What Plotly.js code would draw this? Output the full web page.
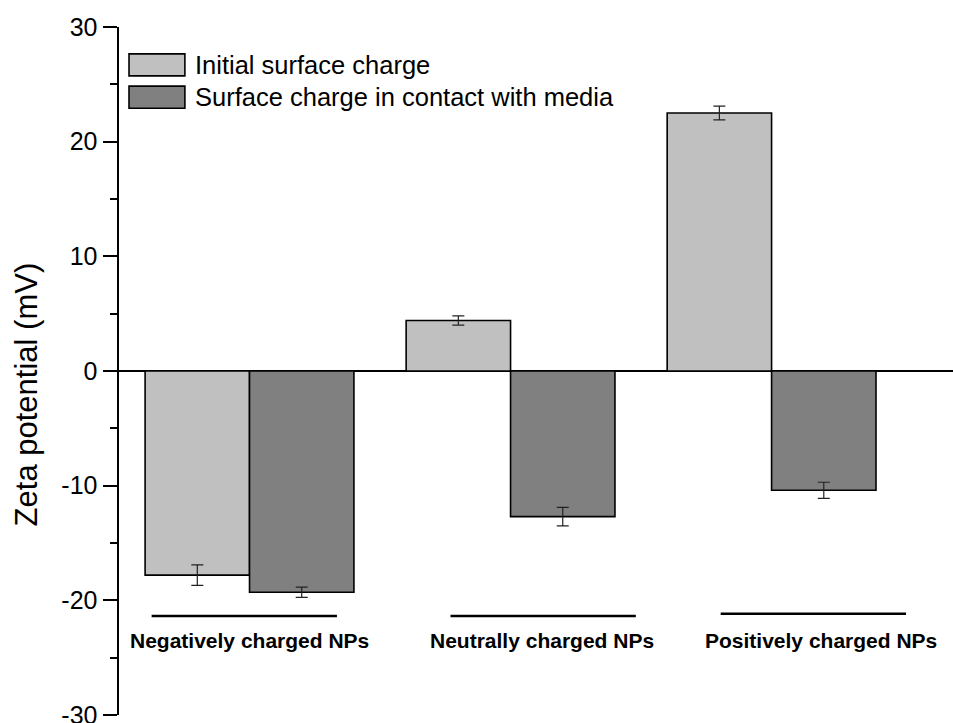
<!DOCTYPE html>
<html>
<head>
<meta charset="utf-8">
<script src="https://cdn.plot.ly/plotly-3.0.1.min.js"></script>
<style>html,body{margin:0;padding:0;background:#fff;}#chart{width:953px;height:723px;}</style>
</head>
<body>
<div id="chart"></div>
<script>
// ---- data ----
var categories = ["Negatively charged NPs", "Neutrally charged NPs", "Positively charged NPs"];
var seriesNames = ["Initial surface charge", "Surface charge in contact with media"];
var initialCharge = [-17.8, 4.4, 22.5];
var initialErr = [0.9, 0.4, 0.6];
var mediaCharge = [-19.3, -12.7, -10.4];
var mediaErr = [0.45, 0.8, 0.7];
var yTickVals = [-30, -20, -10, 0, 10, 20, 30];
var yTitle = "Zeta potential (mV)";

var colors = ["#c0c0c0", "#808080"];
var FONT = "Liberation Sans, Arial, sans-serif";

function barTrace(name, y, err, color) {
  return {
    type: "bar", name: name, x: categories, y: y,
    marker: {color: color, line: {color: "#000", width: 1.6}},
    error_y: {type: "data", array: err, visible: true, color: "#222", thickness: 1.2, width: 6},
    showlegend: false
  };
}
var data = [
  barTrace(seriesNames[0], initialCharge, initialErr, colors[0]),
  barTrace(seriesNames[1], mediaCharge, mediaErr, colors[1])
];

// manual legend (wide swatches)
var shapes = [];
var annotations = [];
var legY = [[0.961, 0.929], [0.914, 0.882]];
seriesNames.forEach(function (n, i) {
  shapes.push({type: "rect", xref: "paper", yref: "paper", x0: 0.012, x1: 0.079,
    y0: legY[i][1], y1: legY[i][0], fillcolor: colors[i], line: {color: "#000", width: 1.6}});
  annotations.push({xref: "paper", yref: "paper", x: 0.089, y: (legY[i][0] + legY[i][1]) / 2,
    xanchor: "left", yanchor: "middle", text: n, showarrow: false,
    font: {family: FONT, size: 25.5, color: "#000"}});
});

// category labels with lines above (placed below the plot content)
var labelOffsets = [0.0, 0.12, 0.19];
var lineOffsets = [-0.02, 0.125, 0.16];
var lineY = [0.144, 0.144, 0.147];
categories.forEach(function (c, i) {
  shapes.push({type: "line", xref: "x", yref: "paper", x0: i + lineOffsets[i] - 0.355, x1: i + lineOffsets[i] + 0.355,
    y0: lineY[i], y1: lineY[i], line: {color: "#000", width: 2.5}});
  annotations.push({xref: "x", yref: "paper", x: i + labelOffsets[i], y: 0.108,
    xanchor: "center", yanchor: "middle", text: "<b>" + c + "</b>", showarrow: false,
    font: {family: FONT, size: 21, color: "#000"}});
});

// y-axis title placed as rotated annotation
annotations.push({xref: "paper", yref: "paper", x: -0.1115, y: 0.466, textangle: -90,
  xanchor: "center", yanchor: "middle", text: yTitle, showarrow: false,
  font: {family: FONT, size: 31, color: "#000"}});

var layout = {
  width: 953, height: 723,
  margin: {l: 119, r: 0, t: 27, b: 8},
  paper_bgcolor: "#fff", plot_bgcolor: "#fff",
  barmode: "group", bargap: 0.2, bargroupgap: 0,
  font: {family: FONT, color: "#000"},
  xaxis: {type: "category", range: [-0.5, 2.695], showticklabels: false, ticks: "",
    showline: false, showgrid: false, zeroline: false, fixedrange: true},
  yaxis: {range: [-30, 30], tickvals: yTickVals, ticktext: yTickVals.map(String),
    ticks: "outside", ticklen: 14, tickwidth: 2, tickcolor: "#000",
    minor: {ticks: "outside", ticklen: 7, tickwidth: 2, tickcolor: "#000", dtick: 5, showgrid: false},
    showline: true, linecolor: "#000", linewidth: 2.5, showgrid: false,
    zeroline: true, zerolinecolor: "#000", zerolinewidth: 2.5,
    ticklabeloverflow: "allow",
    tickfont: {family: FONT, size: 25, color: "#000"}},
  shapes: shapes,
  annotations: annotations
};

Plotly.newPlot("chart", data, layout, {displayModeBar: false, staticPlot: true});
</script>
</body>
</html>
